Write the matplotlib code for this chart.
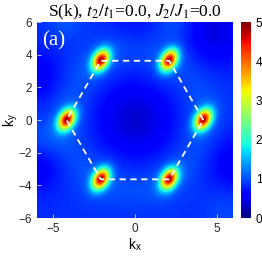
import numpy as np
import matplotlib
matplotlib.use("Agg")
import matplotlib.pyplot as plt

plt.rcParams["mathtext.fontset"] = "stix"

# ---- data ----
peak_kx = [4*np.pi/3, 2*np.pi/3, -2*np.pi/3, -4*np.pi/3, -2*np.pi/3, 2*np.pi/3]
peak_ky = [0.0, 2*np.pi/np.sqrt(3), 2*np.pi/np.sqrt(3), 0.0, -2*np.pi/np.sqrt(3), -2*np.pi/np.sqrt(3)]
peak_height = [3.5, 3.5, 3.5, 3.5, 3.5, 3.5]
peak_sig_major = [0.47, 0.47, 0.47, 0.47, 0.47, 0.47]
peak_sig_minor = [0.32, 0.32, 0.32, 0.32, 0.32, 0.32]
peak_angle_deg = [60, 60, 60, 60, 60, 60]
background_level = 0.82
# broad background features: (kx, ky, amplitude, width)
bg_kx = [0.0, 4.9, -6.0, -6.0, 6.0, 0.0, -4.3, 2.4, 5.6, -5.6]
bg_ky = [0.0, 5.3, 2.6, -3.0, -2.6, 6.0, 6.0, 6.0, -5.6, -1.2]
bg_amp = [-0.5, -0.4, -0.3, -0.3, -0.3, -0.15, 0.2, 0.2, 0.15, 0.15]
bg_width = [1.7, 1.4, 1.1, 1.0, 1.2, 1.2, 0.8, 0.8, 1.0, 0.8]
cbar_ticks = [0, 1, 2, 3, 4, 5]
x_ticks = [-5, 0, 5]
y_ticks = [-6, -4, -2, 0, 2, 4, 6]

# ---- field ----
k = np.linspace(-6, 6, 400)
KX, KY = np.meshgrid(k, k)
R = np.hypot(KX, KY)
S = background_level + 0.15*np.exp(-(R-4.2)**2/(2*0.9**2))
for x0, y0, a, w in zip(bg_kx, bg_ky, bg_amp, bg_width):
    S += a*np.exp(-((KX-x0)**2 + (KY-y0)**2)/(2*w**2))
for x0, y0, h, sa, sb, ang in zip(peak_kx, peak_ky, peak_height, peak_sig_major, peak_sig_minor, peak_angle_deg):
    t = np.deg2rad(ang)
    dx, dy = KX - x0, KY - y0
    u = dx*np.cos(t) + dy*np.sin(t)
    v = -dx*np.sin(t) + dy*np.cos(t)
    r2 = (u/sa)**2 + (v/sb)**2
    S += h*np.exp(-r2/2) + 0.12*h/(1 + r2/2.0)

fig = plt.figure(figsize=(2.62, 2.59), dpi=100)
ax = fig.add_axes([0.141, 0.158, 0.748, 0.757])
im = ax.imshow(S, extent=[-6, 6, -6, 6], origin="lower", cmap="jet", vmin=0, vmax=5,
               interpolation="bilinear", aspect="auto")
hx = peak_kx + [peak_kx[0]]
hy = peak_ky + [peak_ky[0]]
ax.plot(hx, hy, color="white", ls=(0, (3.5, 2.5)), lw=1.3)
ax.set_xlim(-6, 6)
ax.set_ylim(-6, 6)
ax.set_xticks(x_ticks)
ax.set_yticks(y_ticks)
ax.tick_params(direction="in", length=3, labelsize=8.5, color="white", width=0.5)
for lab in ax.get_xticklabels() + ax.get_yticklabels():
    lab.set_fontfamily("Liberation Sans")
    lab.set_color("#262626")
for s in ax.spines.values():
    s.set_visible(False)
ax.set_xlabel("k$_\\mathregular{x}$", fontsize=10, family="Liberation Sans", labelpad=1)
ax.set_ylabel("k$_\\mathregular{y}$", fontsize=10, family="Liberation Sans", labelpad=-1)
ax.set_title("S(k), $t_2/t_1$=0.0, $J_2/J_1$=0.0", fontsize=12.5, family="Liberation Serif", pad=3)
ax.text(-5.7, 4.55, "(a)", color="white", fontsize=15, family="Liberation Serif")

cax = fig.add_axes([0.920, 0.158, 0.038, 0.757])
cb = fig.colorbar(im, cax=cax, ticks=cbar_ticks)
cb.outline.set_visible(False)
cax.tick_params(direction="in", length=0, labelsize=8.5)
for lab in cax.get_yticklabels():
    lab.set_fontfamily("Liberation Sans")

fig.savefig("out.png", dpi=100)
